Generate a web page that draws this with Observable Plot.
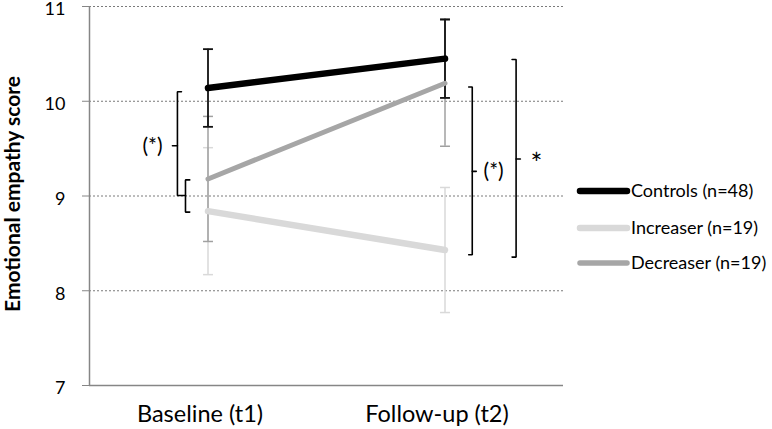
<!DOCTYPE html>
<html>
<head>
<meta charset="utf-8">
<script src="https://cdn.jsdelivr.net/npm/d3@7"></script>
<script src="https://cdn.jsdelivr.net/npm/@observablehq/plot@0.6"></script>
<style>
  html, body { margin: 0; padding: 0; background: #fff; }
  #wrap { position: relative; width: 772px; height: 429px; font-family: Lato, "Open Sans", sans-serif; }
  #legend { position: absolute; left: 574px; top: 174px; }
</style>
</head>
<body>
<div id="wrap"><div id="chart"></div><div id="legend"></div></div>
<script>
// ---- data ----
const timepoints = ["Baseline (t1)", "Follow-up (t2)"];
const groups = ["Controls (n=48)", "Increaser (n=19)", "Decreaser (n=19)"];
const controlsMean = [10.14, 10.45];
const controlsErr = [0.41, 0.415];
const increaserMean = [8.84, 8.43];
const increaserErr = [0.67, 0.66];
const decreaserMean = [9.18, 10.19];
const decreaserErr = [0.66, 0.665];
const yTicks = [7, 8, 9, 10, 11];
const gridTicks = [8, 9, 10, 11];
// significance brackets (score spans)
const leftOuterSpan = [10.10, 9.005, 9.53];   // top, bottom, middle
const leftInnerSpan = [9.17, 8.83];
const rightInnerSpan = [10.15, 8.38, 9.26];
const rightOuterSpan = [10.44, 8.355, 9.39];
const sigLabels = ["(*)", "(*)", "*"];

const colors = {"Controls (n=48)": "#000000", "Increaser (n=19)": "#d9d9d9", "Decreaser (n=19)": "#a6a6a6"};
const errColors = {"Controls (n=48)": "#111111", "Increaser (n=19)": "#d9d9d9", "Decreaser (n=19)": "#a0a0a0"};
const means = [controlsMean, increaserMean, decreaserMean];
const errs = [controlsErr, increaserErr, decreaserErr];

const rows = groups.flatMap((g, gi) => timepoints.map((t, ti) => ({
  group: g, t: ti, mean: means[gi][ti], lo: means[gi][ti] - errs[gi][ti], hi: means[gi][ti] + errs[gi][ti]
})));
const byGroup = g => rows.filter(r => r.group === g);

const capSymbol = {draw(ctx, size) { const w = Math.sqrt(size) / 2; ctx.moveTo(-w, 0); ctx.lineTo(w, 0); }};

function errMarks(g, w) {
  const d = byGroup(g);
  return [
    Plot.ruleX(d, {x: "t", y1: "lo", y2: "hi", stroke: errColors[g], strokeWidth: w}),
    Plot.dot(d, {x: "t", y: "hi", symbol: capSymbol, r: 5.6, stroke: errColors[g], strokeWidth: w}),
    Plot.dot(d, {x: "t", y: "lo", symbol: capSymbol, r: 5.6, stroke: errColors[g], strokeWidth: w})
  ];
}
function lineMark(g, w) {
  return Plot.line(byGroup(g), {x: "t", y: "mean", stroke: colors[g], strokeWidth: w, strokeLinecap: "round"});
}

const bracketStyle = {x: "x", y: "y", stroke: "#000", strokeWidth: 1.6, strokeLinejoin: "miter"};
const leftOuter = [
  {x: -0.112, y: leftOuterSpan[0]}, {x: -0.129, y: leftOuterSpan[0]},
  {x: -0.129, y: leftOuterSpan[1]}, {x: -0.095, y: leftOuterSpan[1]}
];
const leftOuterMid = [{x: -0.129, y: leftOuterSpan[2]}, {x: -0.150, y: leftOuterSpan[2]}];
const leftInner = [
  {x: -0.077, y: leftInnerSpan[0]}, {x: -0.095, y: leftInnerSpan[0]},
  {x: -0.095, y: leftInnerSpan[1]}, {x: -0.077, y: leftInnerSpan[1]}
];
const rightInner = [
  {x: 1.100, y: rightInnerSpan[0]}, {x: 1.115, y: rightInnerSpan[0]},
  {x: 1.115, y: rightInnerSpan[1]}, {x: 1.100, y: rightInnerSpan[1]}
];
const rightInnerMid = [{x: 1.115, y: rightInnerSpan[2]}, {x: 1.132, y: rightInnerSpan[2]}];
const rightOuter = [
  {x: 1.283, y: rightOuterSpan[0]}, {x: 1.300, y: rightOuterSpan[0]},
  {x: 1.300, y: rightOuterSpan[1]}, {x: 1.283, y: rightOuterSpan[1]}
];
const rightOuterMid = [{x: 1.300, y: rightOuterSpan[2]}, {x: 1.318, y: rightOuterSpan[2]}];
const sigParen = [
  {x: -0.234, y: leftOuterSpan[2], label: sigLabels[0]},
  {x: 1.205, y: rightInnerSpan[2], label: sigLabels[1]}
];
const sigStar = [{x: 1.386, y: rightOuterSpan[2], label: sigLabels[2]}];

const chart = Plot.plot({
  width: 772,
  height: 429,
  marginLeft: 89,
  marginRight: 209,
  marginTop: 6,
  marginBottom: 44,
  style: {fontFamily: "Lato, 'Open Sans', sans-serif", background: "#fff", color: "#000"},
  x: {domain: [-0.5, 1.5]},
  y: {domain: [7, 11]},
  marks: [
    Plot.ruleY(gridTicks, {y: d => d, stroke: "#7a7a7a", strokeWidth: 1, strokeDasharray: "2,2"}),
    Plot.ruleX([-0.5], {x: d => d, y1: 7, y2: 11, stroke: "#868686", strokeWidth: 1.5}),
    Plot.ruleY([7], {y: d => d, stroke: "#868686", strokeWidth: 1.5}),
    Plot.axisY({ticks: yTicks, tickFormat: () => "", tickSize: 7, stroke: "#868686", label: null}),
    Plot.axisY({ticks: yTicks, tickFormat: d3.format("d"), tickSize: 0, tickPadding: 24, dy: 3.2, fill: "#000", fontSize: 18, label: null}),
    Plot.text(["Emotional empathy score"], {frameAnchor: "left", textAnchor: "middle", dx: -76, dy: -2, rotate: -90, text: d => d, fontSize: 21, fontWeight: "bold", fill: "#000", style: "letter-spacing: 1.6px"}),
    Plot.axisX({ticks: [0, 1], tickFormat: i => timepoints[i], tickSize: 0, tickPadding: 20, fontSize: 23.5, dx: -8, label: null, fill: "#000"}),
    ...errMarks("Increaser (n=19)", 1.5),
    ...errMarks("Decreaser (n=19)", 1.5),
    ...errMarks("Controls (n=48)", 1.8),
    lineMark("Increaser (n=19)", 6.5),
    lineMark("Decreaser (n=19)", 5),
    lineMark("Controls (n=48)", 6.5),
    Plot.line(leftOuter, bracketStyle),
    Plot.line(leftOuterMid, bracketStyle),
    Plot.line(leftInner, bracketStyle),
    Plot.line(rightInner, bracketStyle),
    Plot.line(rightInnerMid, bracketStyle),
    Plot.line(rightOuter, bracketStyle),
    Plot.line(rightOuterMid, bracketStyle),
    Plot.text(sigParen, {x: "x", y: "y", text: "label", fontSize: 21, fill: "#000", style: "letter-spacing: 2px"}),
    Plot.text(sigStar, {x: "x", y: "y", text: "label", fontSize: 28, dy: 6, fill: "#000"})
  ]
});
document.getElementById("chart").appendChild(chart);

// ---- legend ----
const lw = 198, lh = 110;
const leg = d3.select("#legend").append("svg").attr("width", lw).attr("height", lh)
  .style("font-family", "Lato, 'Open Sans', sans-serif");
const legendY = [17, 54, 89];
groups.forEach((g, i) => {
  const row = leg.append("g").attr("transform", `translate(0,${legendY[i]})`);
  row.append("line").attr("x1", 6).attr("x2", 53).attr("y1", 0).attr("y2", 0)
    .attr("stroke", colors[g]).attr("stroke-width", i === 2 ? 5.5 : 6.5).attr("stroke-linecap", "round");
  row.append("text").attr("x", 57).attr("y", 0).attr("dy", "0.35em").attr("font-size", 18).attr("fill", "#000").text(g);
});
</script>
</body>
</html>
